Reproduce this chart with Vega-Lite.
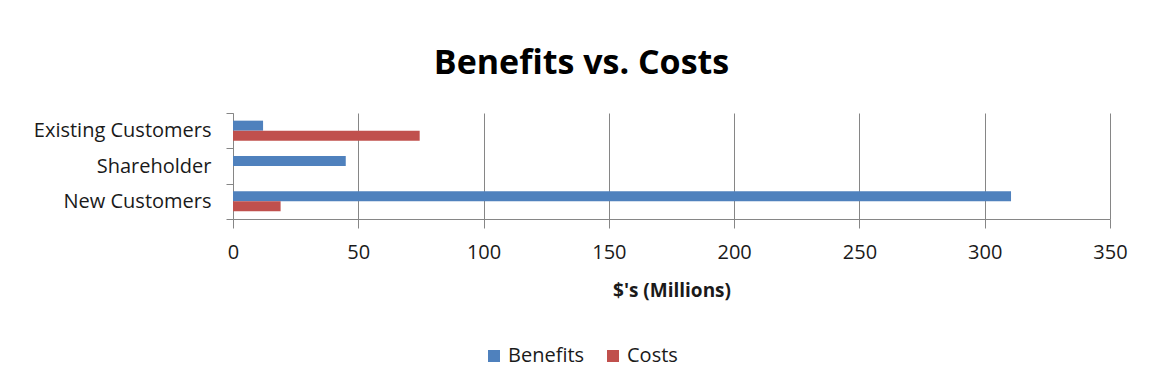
{
  "$schema": "https://vega.github.io/schema/vega-lite/v6.json",
  "width": 877,
  "height": 106,
  "autosize": "none",
  "padding": {"left": 233, "top": 113, "right": 39, "bottom": 167},
  "background": "white",
  "title": {
    "text": "Benefits vs. Costs",
    "font": "Open Sans",
    "fontSize": 34,
    "fontWeight": "bold",
    "color": "#000000",
    "anchor": "middle",
    "dx": -90,
    "offset": 22
  },
  "data": {
    "values": [
      {"group": "Existing Customers", "series": "Benefits", "value": 12},
      {"group": "Existing Customers", "series": "Costs", "value": 74.5},
      {"group": "Shareholder", "series": "Benefits", "value": 45},
      {"group": "Shareholder", "series": "Costs", "value": 0},
      {"group": "New Customers", "series": "Benefits", "value": 310.5},
      {"group": "New Customers", "series": "Costs", "value": 19}
    ]
  },
  "mark": {"type": "bar"},
  "encoding": {
    "y": {
      "field": "group",
      "type": "nominal",
      "sort": ["Existing Customers", "Shareholder", "New Customers"],
      "scale": {"paddingInner": 0, "paddingOuter": 0},
      "axis": {
        "title": null,
        "labelFont": "Open Sans",
        "labelFontSize": 20,
        "labelColor": "#1a1a1a",
        "labelPadding": 15,
        "tickBand": "extent",
        "tickSize": 7,
        "tickColor": "#868686",
        "domainColor": "#868686",
        "grid": false
      }
    },
    "yOffset": {
      "field": "series",
      "type": "nominal",
      "sort": ["Benefits", "Costs"],
      "scale": {"paddingInner": 0, "paddingOuter": 0.765}
    },
    "x": {
      "field": "value",
      "type": "quantitative",
      "scale": {"domain": [0, 350], "nice": false},
      "axis": {
        "title": "$'s (Millions)",
        "titleFont": "Open Sans",
        "titleFontSize": 19,
        "titleFontWeight": "bold",
        "titleColor": "#1a1a1a",
        "titlePadding": 19,
        "values": [0, 50, 100, 150, 200, 250, 300, 350],
        "labelFont": "Open Sans",
        "labelFontSize": 20,
        "labelColor": "#1a1a1a",
        "labelPadding": 14,
        "labelFlush": false,
        "tickSize": 9,
        "tickColor": "#868686",
        "domainColor": "#868686",
        "grid": true,
        "gridColor": "#868686",
        "gridWidth": 1
      }
    },
    "color": {
      "field": "series",
      "type": "nominal",
      "sort": ["Benefits", "Costs"],
      "scale": {"domain": ["Benefits", "Costs"], "range": ["#4F81BD", "#C0504D"]},
      "legend": {
        "title": null,
        "orient": "none",
        "direction": "horizontal",
        "legendX": 251,
        "legendY": 233,
        "symbolType": "square",
        "symbolSize": 144,
        "symbolStrokeWidth": 0,
        "labelFont": "Open Sans",
        "labelFontSize": 20,
        "labelColor": "#1a1a1a",
        "labelOffset": 4,
        "columnPadding": 18
      }
    }
  },
  "config": {
    "view": {"stroke": null}
  }
}
